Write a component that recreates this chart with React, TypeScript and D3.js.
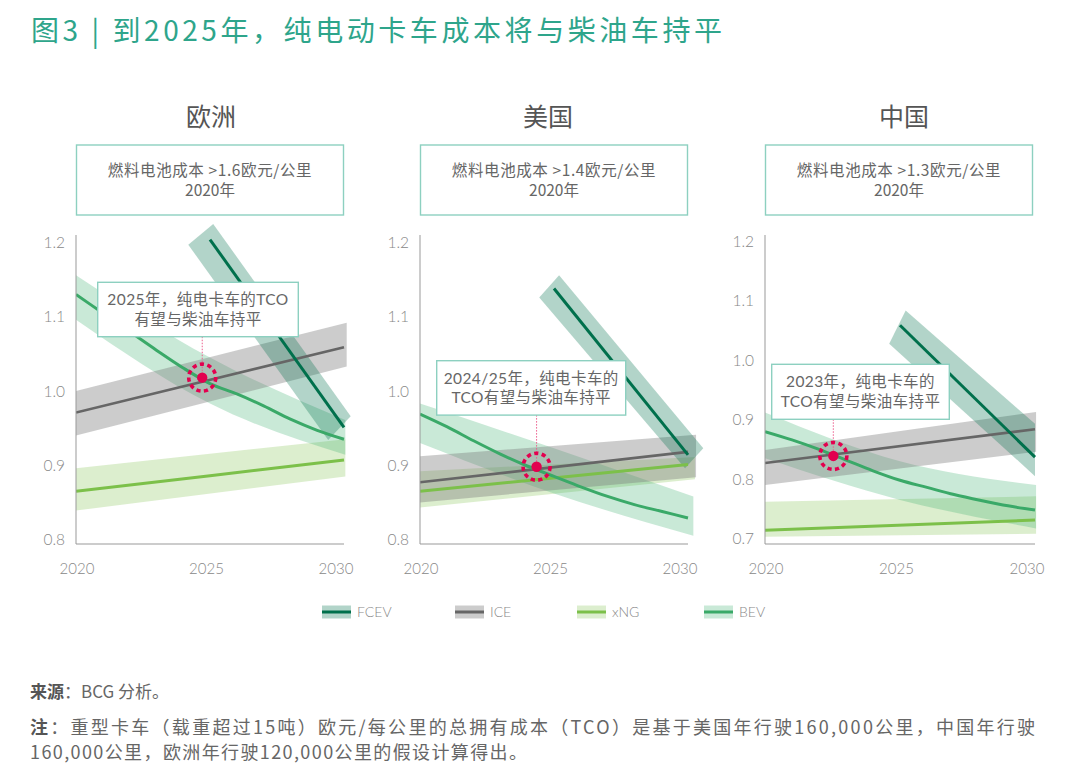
import * as d3 from "d3";

// ---- data ----
const years = [2020, 2021, 2022, 2023, 2024, 2025, 2026, 2027, 2028, 2029, 2030];
const tickYears = [2020, 2025, 2030];
const regionNames = ["欧洲", "美国", "中国"];
const fuelCellNotes = [
  "燃料电池成本 >1.6欧元/公里",
  "燃料电池成本 >1.4欧元/公里",
  "燃料电池成本 >1.3欧元/公里",
];
const noteYear = "2020年";
const yTicksEU = [0.8, 0.9, 1.0, 1.1, 1.2];
const yTicksUS = [0.8, 0.9, 1.0, 1.1, 1.2];
const yTicksCN = [0.7, 0.8, 0.9, 1.0, 1.1, 1.2];
const calloutTexts = [
  ["2025年，纯电卡车的TCO", "有望与柴油车持平"],
  ["2024/25年，纯电卡车的", "TCO有望与柴油车持平"],
  ["2023年，纯电卡车的", "TCO有望与柴油车持平"],
];
const parityYears = [2024.71, 2024.35, 2022.53];
const parityValues = [1.018, 0.898, 0.839];
const seriesNames = ["FCEV", "ICE", "xNG", "BEV"];

type P = [number, number];

// Europe
const euFCEV: P[] = [[2025, 1.204], [2030, 0.951]];
const euFCEVHi: P[] = [[2025.12, 1.225], [2030.25, 0.966]];
const euFCEVLo: P[] = [[2024.19, 1.197], [2029.41, 0.934]];
const euICE: P[] = [[2020, 0.971], [2030, 1.059]];
const euICEHi: P[] = [[2020, 1.0], [2030.1, 1.092]];
const euICELo: P[] = [[2020, 0.94], [2030.1, 1.033]];
const euXNG: P[] = [[2020, 0.865], [2025, 0.886], [2030, 0.907]];
const euXNGHi: P[] = [[2020, 0.896], [2030.05, 0.935]];
const euXNGLo: P[] = [[2020, 0.839], [2030.05, 0.885]];
const euBEV = [1.13, 1.105, 1.08, 1.055, 1.031, 1.01, 0.996, 0.98, 0.962, 0.947, 0.935];
const euBEVHi: P[] = [[2020, 1.156], [2025, 1.045], [2030.05, 0.961]];
const euBEVLo: P[] = [[2020, 1.096], [2025, 0.983], [2030.05, 0.914]];

// United States
const usFCEV: P[] = [[2025, 1.138], [2030, 0.914]];
const usFCEVHi: P[] = [[2025.19, 1.156], [2030.57, 0.923]];
const usFCEVLo: P[] = [[2024.45, 1.126], [2029.89, 0.896]];
const usICE: P[] = [[2020, 0.877], [2030, 0.918]];
const usICEHi: P[] = [[2020, 0.912], [2030.3, 0.941]];
const usICELo: P[] = [[2020, 0.85], [2030.3, 0.884]];
const usXNG: P[] = [[2020, 0.865], [2030, 0.901]];
const usXNGHi: P[] = [[2020, 0.892], [2030.26, 0.911]];
const usXNGLo: P[] = [[2020, 0.843], [2030.26, 0.881]];
const usBEV = [0.969, 0.952, 0.933, 0.915, 0.899, 0.885, 0.871, 0.858, 0.847, 0.838, 0.829];
const usBEVHi: P[] = [[2020, 0.983], [2025, 0.923], [2030.2, 0.858]];
const usBEVLo: P[] = [[2020, 0.93], [2025, 0.862], [2030.2, 0.805]];

// China
const cnFCEV: P[] = [[2025, 1.059], [2030, 0.837]];
const cnFCEVHi: P[] = [[2025.21, 1.084], [2030, 0.893]];
const cnFCEVLo: P[] = [[2024.6, 1.028], [2030, 0.805]];
const cnICE: P[] = [[2020, 0.827], [2030, 0.884]];
const cnICEHi: P[] = [[2020, 0.849], [2030.04, 0.913]];
const cnICELo: P[] = [[2020, 0.79], [2030.04, 0.846]];
const cnXNG: P[] = [[2020, 0.714], [2030, 0.731]];
const cnXNGHi: P[] = [[2020, 0.762], [2030.04, 0.771]];
const cnXNGLo: P[] = [[2020, 0.703], [2030.04, 0.708]];
const cnBEV = [0.88, 0.866, 0.85, 0.832, 0.814, 0.798, 0.786, 0.774, 0.764, 0.755, 0.748];
const cnBEVHi: P[] = [[2020, 0.912], [2025, 0.83], [2030.04, 0.79]];
const cnBEVLo: P[] = [[2020, 0.835], [2025, 0.765], [2030.04, 0.717]];

const withYears = (vals: number[]): P[] => vals.map((v, i) => [years[i], v]);

const panelSeries = [
  {
    FCEV: [euFCEV, euFCEVHi, euFCEVLo],
    ICE: [euICE, euICEHi, euICELo],
    xNG: [euXNG, euXNGHi, euXNGLo],
    BEV: [withYears(euBEV), euBEVHi, euBEVLo],
  },
  {
    FCEV: [usFCEV, usFCEVHi, usFCEVLo],
    ICE: [usICE, usICEHi, usICELo],
    xNG: [usXNG, usXNGHi, usXNGLo],
    BEV: [withYears(usBEV), usBEVHi, usBEVLo],
  },
  {
    FCEV: [cnFCEV, cnFCEVHi, cnFCEVLo],
    ICE: [cnICE, cnICEHi, cnICELo],
    xNG: [cnXNG, cnXNGHi, cnXNGLo],
    BEV: [withYears(cnBEV), cnBEVHi, cnBEVLo],
  },
] as Record<string, P[][]>[];

const yTicksAll = [yTicksEU, yTicksUS, yTicksCN];

// ---- layout & style ----
const layout = [
  { x0: 76, w: 268, yLo: 539.5, yHi: 242.5, titleX: 211, box: [97.7, 282.3, 200.6, 54.4] },
  { x0: 420, w: 268, yLo: 539.5, yHi: 242.5, titleX: 548, box: [436.7, 360.7, 189, 54.4] },
  { x0: 765, w: 270, yLo: 538.5, yHi: 241.5, titleX: 904, box: [771.7, 364.3, 177.6, 55] },
];

const lineColor: Record<string, string> = {
  FCEV: "#00704c",
  ICE: "#666666",
  xNG: "#7cc04a",
  BEV: "#3aa968",
};
const bandColor: Record<string, string> = {
  FCEV: "rgba(0,112,76,0.30)",
  ICE: "rgba(120,120,120,0.38)",
  xNG: "rgba(130,195,80,0.28)",
  BEV: "rgba(60,175,110,0.28)",
};
const legendX = [322, 455, 577, 704];

const LATIN = "Lato, 'Noto Sans CJK SC', sans-serif";
const CJK = "'Noto Sans CJK SC', Lato, sans-serif";
const TEAL = "#2ea58b";
const BOX = "#8dd0c0";
const RED = "#e3004f";

function Panel({ i }: { i: number }) {
  const L = layout[i];
  const ticks = yTicksAll[i];
  const x = d3.scaleLinear().domain([2020, 2030]).range([L.x0, L.x0 + L.w]);
  const xLabel = d3.scaleLinear().domain([2020, 2030]).range([L.x0 + 1, L.x0 + L.w - 8]);
  const y = d3
    .scaleLinear()
    .domain([ticks[0], 1.2])
    .range([L.yLo, L.yHi]);

  const line = d3
    .line<P>()
    .x((d) => x(d[0]))
    .y((d) => y(d[1]))
    .curve(d3.curveMonotoneX);

  const band = (hi: P[], lo: P[]) => {
    const a = line(hi) as string;
    const b = line([...lo].reverse()) as string;
    return a + "L" + b.slice(1) + "Z";
  };

  const series = panelSeries[i];
  const bandOrder = ["xNG", "BEV", "ICE", "FCEV"];
  const lineOrder = ["xNG", "ICE", "BEV", "FCEV"];
  const [bx, by, bw, bh] = L.box;
  const px = x(parityYears[i]);
  const py = y(parityValues[i]);
  const axisBottom = 544;

  return (
    <g>
      <text
        x={L.titleX}
        y={126}
        textAnchor="middle"
        fontFamily={CJK}
        fontSize={25}
        fontWeight={400}
        fill="#555"
      >
        {regionNames[i]}
      </text>
      <rect x={L.x0 + 0.5} y={145} width={267} height={70} fill="#fff" stroke={BOX} strokeWidth={1.4} />
      <text x={L.x0 + 134} y={175.5} textAnchor="middle" fontFamily={CJK} fontSize={15.5} fill="#666" letterSpacing={0.6}>
        {fuelCellNotes[i]}
      </text>
      <text x={L.x0 + 134} y={196} textAnchor="middle" fontFamily={CJK} fontSize={15.5} fill="#666">
        {noteYear}
      </text>

      <clipPath id={`clip${i}`}>
        <rect x={L.x0} y={150} width={L.w + 60} height={400} />
      </clipPath>
      <g clipPath={`url(#clip${i})`}>
        {bandOrder.map((k) => (
          <path key={"b" + k} d={band(series[k][1], series[k][2])} fill={bandColor[k]} />
        ))}
        {lineOrder.map((k) => (
          <path
            key={"l" + k}
            d={line(series[k][0]) as string}
            fill="none"
            stroke={lineColor[k]}
            strokeWidth={k === "ICE" ? 2.6 : 3}
          />
        ))}
      </g>

      {/* axes */}
      <line x1={L.x0} x2={L.x0} y1={235} y2={axisBottom} stroke="#999" strokeWidth={1} />
      <line x1={L.x0} x2={L.x0 + L.w} y1={axisBottom} y2={axisBottom} stroke="#999" strokeWidth={1} />
      {ticks.map((t) => (
        <text
          key={t}
          x={L.x0 - 11}
          y={y(t) + 5.5}
          textAnchor="end"
          fontFamily={LATIN}
          fontSize={15.5}
          fontWeight={300}
          fill="#888"
        >
          {t.toFixed(1)}
        </text>
      ))}
      {tickYears.map((t) => (
        <text
          key={t}
          x={xLabel(t)}
          y={574}
          textAnchor="middle"
          fontFamily={LATIN}
          fontSize={15}
          fontWeight={300}
          fill="#888"
        >
          {t}
        </text>
      ))}

      {/* callout */}
      <line x1={px} x2={px} y1={by + bh} y2={py} stroke="#ec5d8c" strokeWidth={1} strokeDasharray="1.5 1.5" />
      <rect x={bx} y={by} width={bw} height={bh} fill="#fff" stroke={BOX} strokeWidth={1.4} />
      {calloutTexts[i].map((t, k) => (
        <text
          key={k}
          x={bx + bw / 2}
          y={by + 23 + k * 19.5}
          textAnchor="middle"
          fontFamily={LATIN}
          fontSize={15.5}
          fill="#666"
          letterSpacing={0.4}
        >
          {t}
        </text>
      ))}
      <circle cx={px} cy={py} r={13.5} fill="none" stroke={RED} strokeWidth={3.6} strokeDasharray="4.2 3.4" />
      <circle cx={px} cy={py} r={5.2} fill={RED} />
    </g>
  );
}

export default function App() {
  return (
    <svg
      width={1080}
      height={778}
      viewBox="0 0 1080 778"
      style={{ position: "absolute", left: 0, top: 0, background: "#fff", display: "block" }}
    >
      <rect width={1080} height={778} fill="#fff" />
      <text
        x={31}
        y={41}
        fontFamily={CJK}
        fontSize={28}
        fontWeight={400}
        fill={TEAL}
        textLength={691}
        lengthAdjust="spacing"
      >
        图3 | 到2025年，纯电动卡车成本将与柴油车持平
      </text>

      {[0, 1, 2].map((i) => (
        <Panel key={i} i={i} />
      ))}

      {/* legend */}
      {seriesNames.map((k, j) => (
        <g key={k} transform={`translate(${legendX[j]},612)`}>
          <rect x={0} y={-6.5} width={29} height={13} fill={bandColor[k]} />
          <rect x={0} y={-1.5} width={29} height={3} fill={lineColor[k]} />
          <text x={35} y={5} fontFamily={LATIN} fontSize={14} fontWeight={300} fill="#888">
            {k}
          </text>
        </g>
      ))}

      {/* footnotes */}
      <text x={30} y={698} fontFamily={CJK} fontSize={17} fill="#666">
        <tspan fontWeight={700} fill="#555">来源</tspan>：BCG 分析。
      </text>
      <text x={30} y={734} fontFamily={CJK} fontSize={18} fill="#666" textLength={1005} lengthAdjust="spacing">
        <tspan fontWeight={700} fill="#555">注</tspan>：重型卡车（载重超过15吨）欧元/每公里的总拥有成本（TCO）是基于美国年行驶160,000公里，中国年行驶
      </text>
      <text x={30} y={759} fontFamily={CJK} fontSize={18} fill="#666" textLength={497} lengthAdjust="spacing">
        160,000公里，欧洲年行驶120,000公里的假设计算得出。
      </text>
    </svg>
  );
}
